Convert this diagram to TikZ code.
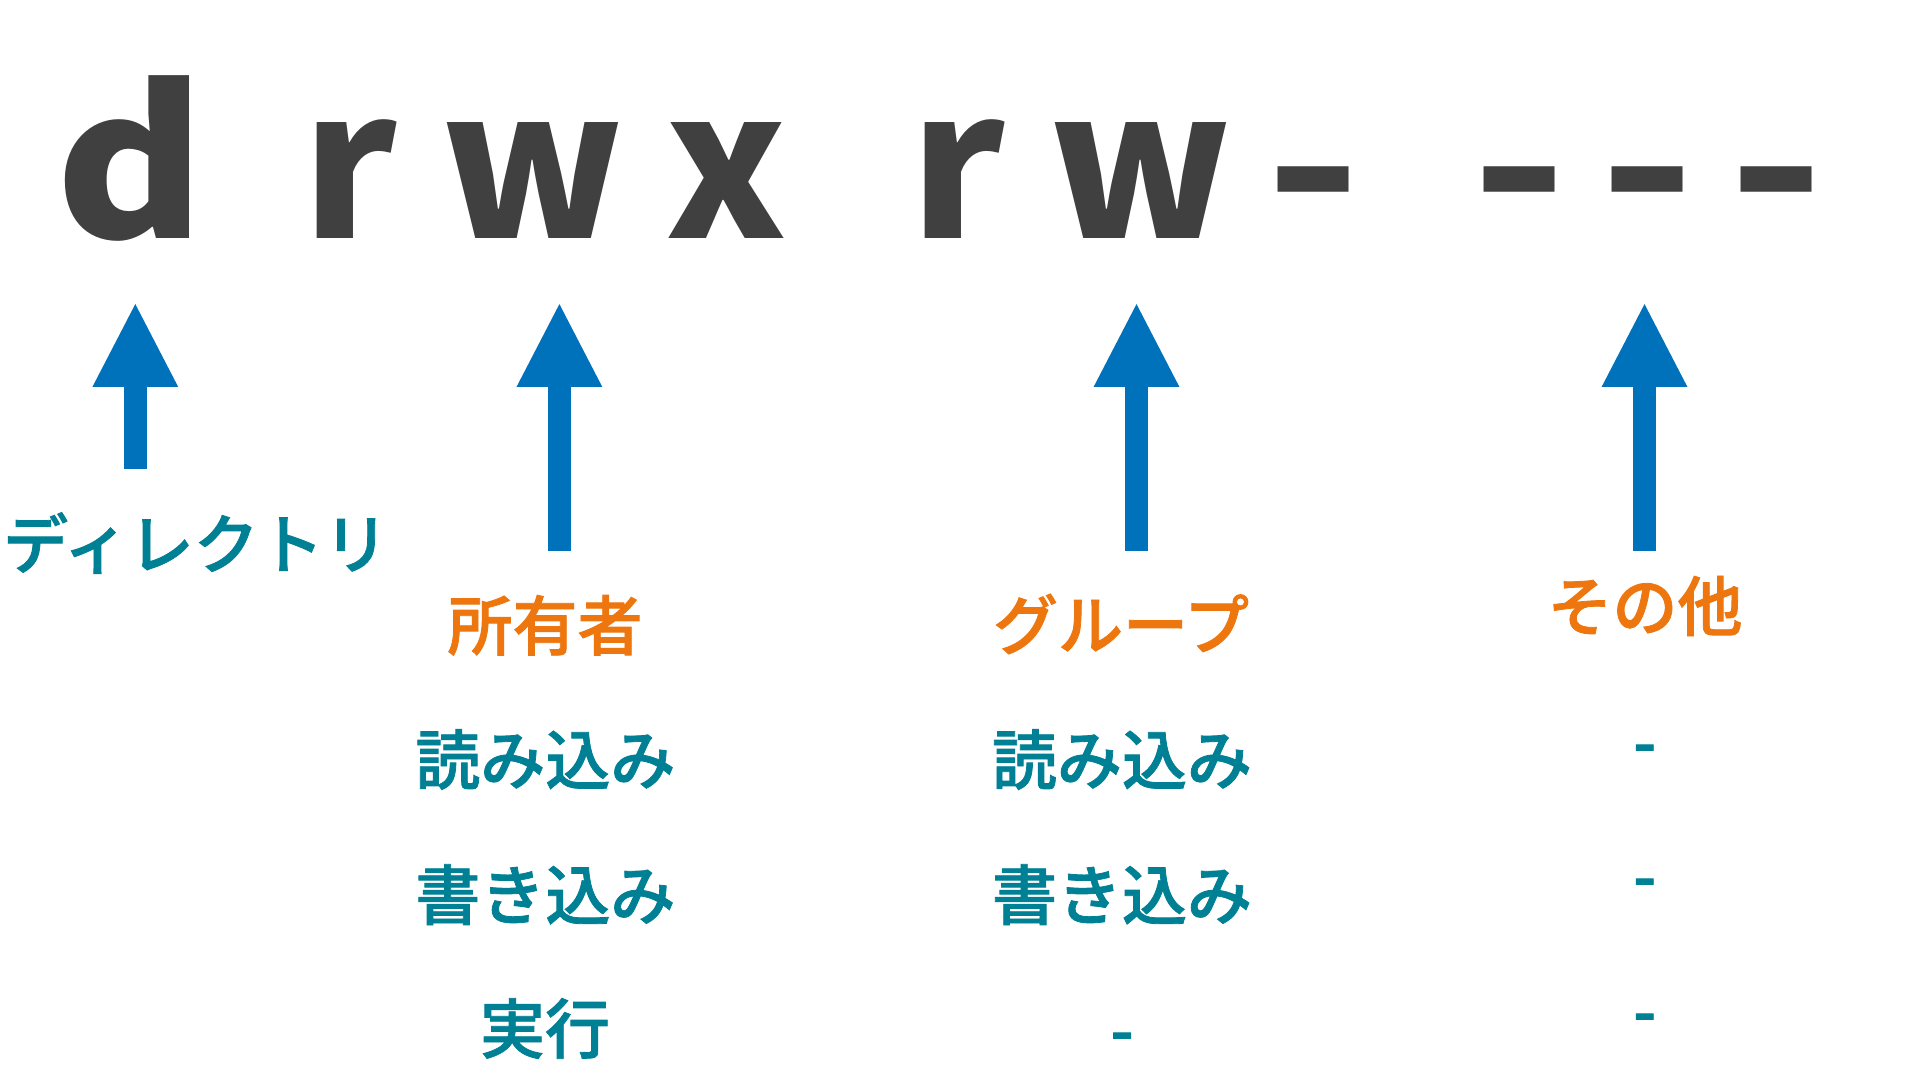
\documentclass[tikz,border=0pt]{standalone}
\usepackage{fontspec}
\usepackage{xcolor}
\usepackage{tikz}
\setmainfont{Noto Sans CJK JP}
\newfontfamily\labelfamily{Noto Sans CJK JP Medium}[FakeBold=1.2]
\usetikzlibrary{arrows.meta}
\definecolor{permgray}{RGB}{64,64,64}
\definecolor{permblue}{RGB}{0,114,188}
\definecolor{permteal}{RGB}{0,128,148}
\definecolor{permorange}{RGB}{238,118,14}
\newcommand{\permfont}{\bfseries\fontsize{58}{58}\selectfont}
\newcommand{\rolefont}{\labelfamily\fontsize{18.5}{18.5}\selectfont}
\newcommand{\permdash}{\scalebox{1.23}[1]{-}}

\begin{document}
\begin{tikzpicture}[every node/.style={inner sep=0pt},
  permchar/.style={font=\permfont, text=permgray, anchor=base},
  rolename/.style={font=\rolefont, text=permorange},
  accessname/.style={font=\rolefont, text=permteal},
  accessnone/.style={font=\rolefont, text=permteal, anchor=base},
  permarrow/.style={draw=permblue, line width=0.23cm, -{Triangle[length=0.85cm, width=0.79cm]}}]
  \fill[white] (0,0) rectangle (19.2,10.8);
  \useasboundingbox (0,0) rectangle (19.2,10.8);
  \node[permchar] (d) at (1.31,8.41) {\scalebox{1.12}[1]{d}};
  \node[permchar] (r1) at (3.50,8.41) {r};
  \node[permchar] (w1) at (5.33,8.41) {w};
  \node[permchar] (x1) at (7.26,8.41) {x};
  \node[permchar] (r2) at (9.58,8.41) {r};
  \node[permchar] (w2) at (11.41,8.41) {w};
  \node[permchar] (n1) at (13.13,8.41) {\permdash};
  \node[permchar] (n2) at (15.19,8.41) {\permdash};
  \node[permchar] (n3) at (16.47,8.41) {\permdash};
  \node[permchar] (n4) at (17.76,8.41) {\permdash};
  \coordinate (tip1) at (1.353,7.78);
  \coordinate (tip2) at (5.594,7.78);
  \coordinate (tip3) at (11.365,7.78);
  \coordinate (tip4) at (16.445,7.78);
  \coordinate (tail1) at (1.353,6.11);
  \coordinate (tail2) at (5.594,5.29);
  \coordinate (tail3) at (11.365,5.29);
  \coordinate (tail4) at (16.445,5.29);
  \draw[permarrow] (tail1) -- (tip1);
  \draw[permarrow] (tail2) -- (tip2);
  \draw[permarrow] (tail3) -- (tip3);
  \draw[permarrow] (tail4) -- (tip4);
  \node[accessname] (dir) at (1.96,5.37) {ディレクトリ};
  \node[rolename] (owner) at (5.45,4.547) {所有者};
  \node[rolename] (group) at (11.21,4.56) {グループ};
  \node[rolename] (other) at (16.45,4.74) {その他};
  \node[accessname] (ownerr) at (5.454,3.205) {読み込み};
  \node[accessname] (ownerw) at (5.454,1.853) {書き込み};
  \node[accessname] (ownerx) at (5.45,0.515) {実行};
  \node[accessname] (groupr) at (11.22,3.205) {読み込み};
  \node[accessname] (groupw) at (11.22,1.853) {書き込み};
  \node[accessnone] (groupx) at (11.22,0.26) {-};
  \node[accessnone] (otherr) at (16.447,3.14) {-};
  \node[accessnone] (otherw) at (16.447,1.80) {-};
  \node[accessnone] (otherx) at (16.447,0.45) {-};
\end{tikzpicture}
\end{document}
